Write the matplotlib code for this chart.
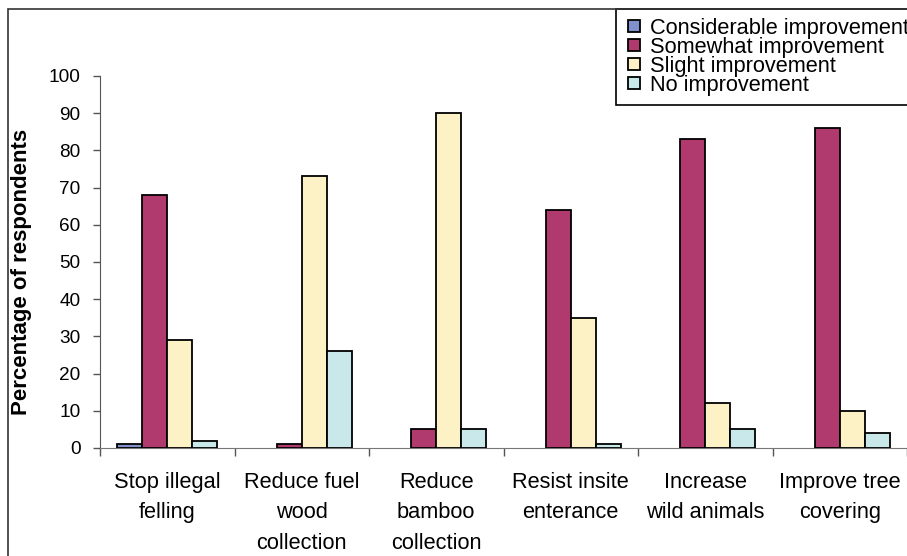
import numpy as np
import matplotlib
matplotlib.use('Agg')
import matplotlib.pyplot as plt
from matplotlib.patches import Rectangle
from matplotlib.legend_handler import HandlerPatch
from matplotlib.container import BarContainer

plt.rcParams['font.family'] = ['Liberation Sans', 'DejaVu Sans']

# survey results, percent of respondents
categories = ['Stop illegal\nfelling', 'Reduce fuel\nwood\ncollection', 'Reduce\nbamboo\ncollection',
              'Resist insite\nenterance', 'Increase\nwild animals', 'Improve tree\ncovering']
series_names = ['Considerable improvement', 'Somewhat improvement', 'Slight improvement', 'No improvement']
considerable = [1, 0, 0, 0, 0, 0]
somewhat = [68, 1, 5, 64, 83, 86]
slight = [29, 73, 90, 35, 12, 10]
no_impr = [2, 26, 5, 1, 5, 4]
colors = ['#8090cc', '#b03a6e', '#fdf2c6', '#c8e8ea']

fig = plt.figure(figsize=(9.07, 5.56), dpi=100)
ax = fig.add_axes([100 / 907, 108 / 556, 807 / 907, 372 / 556])

x = np.arange(len(categories))
w = 0.185
for i, (vals, name) in enumerate(zip([considerable, somewhat, slight, no_impr], series_names)):
    h = np.array(vals, dtype=float)
    h[h == 0] = np.nan  # no outline for empty bars
    ax.bar(x + (i - 1.5) * w, h, w, color=colors[i], edgecolor='black', linewidth=1.3,
           label=name, zorder=3)

ax.set_xlim(-0.5, len(categories) - 0.5)
ax.set_ylim(0, 100)
ax.set_yticks(np.arange(0, 101, 10))
ax.tick_params(axis='y', direction='out', length=5, width=1, color='#555555', pad=9, labelsize=13.7)
ax.set_xticks(x)
ax.set_xticklabels(categories, fontsize=15.7, linespacing=1.6, va='top')
ax.set_xticks(np.arange(-0.5, len(categories), 1), minor=True)
ax.tick_params(axis='x', which='major', length=0, pad=17)
ax.tick_params(axis='x', which='minor', direction='out', length=6, width=1, color='#555555')
for s in ['top', 'right']:
    ax.spines[s].set_visible(False)
ax.spines['left'].set_color('#555555')
ax.spines['bottom'].set_color('#777777')

ax.set_ylabel('Percentage of respondents', fontsize=16, fontweight='bold')
ax.yaxis.set_label_coords(-0.084, 0.473)


# small square legend keys (size in points), right-aligned in the handle box
def square(legend, orig_handle, xdescent, ydescent, width, height, fontsize):
    s = 8.6
    return Rectangle((width - s - xdescent, -ydescent + (height - s) / 2), s, s)


def first_bar(tgt, src):
    tgt.update_from(src.get_children()[0])


leg = ax.legend(loc='upper left', bbox_to_anchor=(616 / 907, 1 - 9 / 556), bbox_transform=fig.transFigure,
                fontsize=15.7, frameon=True, fancybox=False, framealpha=1, edgecolor='black',
                borderpad=0.42, labelspacing=-0.1, handlelength=0.7, handleheight=0.55,
                handletextpad=0.44, borderaxespad=0,
                handler_map={BarContainer: HandlerPatch(patch_func=square, update_func=first_bar)})
leg.get_frame().set_linewidth(1.2)

# outer frame around the figure
fig.patches.append(Rectangle((8 / 907, -0.1), 1.2, 1.1 - 9 / 556, transform=fig.transFigure,
                             fill=False, edgecolor='#333333', linewidth=1.2))

fig.savefig('out.png', dpi=100)
